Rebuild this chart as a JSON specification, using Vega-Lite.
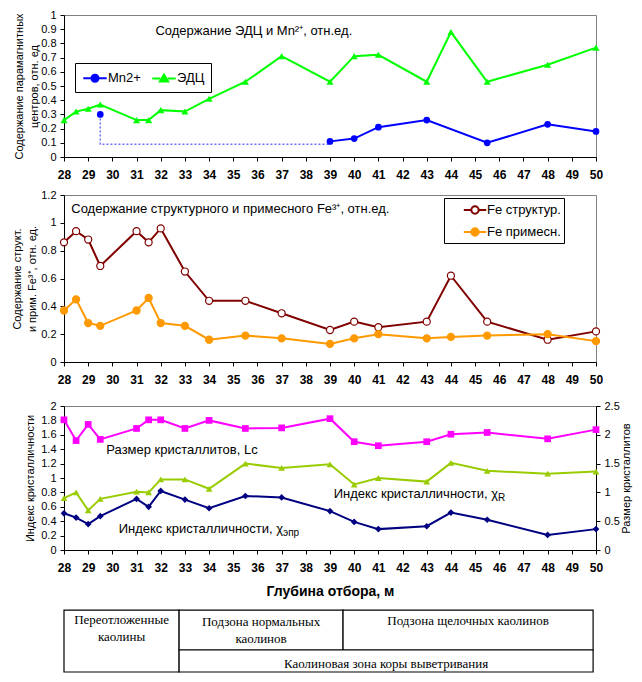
{
  "$schema": "https://vega.github.io/schema/vega-lite/v6.json",
  "background": "white",
  "padding": {"left": 11, "top": 8, "right": 5, "bottom": 5},
  "spacing": 7,
  "resolve": {
    "scale": {"color": "independent", "shape": "independent", "fill": "independent", "stroke": "independent"},
    "legend": {"color": "independent", "shape": "independent", "fill": "independent", "stroke": "independent"}
  },
  "datasets": {
    "p1": [
      {"series": "ЭДЦ", "depth": 28, "value": 0.26},
      {"series": "ЭДЦ", "depth": 28.5, "value": 0.32},
      {"series": "ЭДЦ", "depth": 29, "value": 0.34},
      {"series": "ЭДЦ", "depth": 29.5, "value": 0.37},
      {"series": "ЭДЦ", "depth": 31, "value": 0.26},
      {"series": "ЭДЦ", "depth": 31.5, "value": 0.26},
      {"series": "ЭДЦ", "depth": 32, "value": 0.33},
      {"series": "ЭДЦ", "depth": 33, "value": 0.32},
      {"series": "ЭДЦ", "depth": 34, "value": 0.41},
      {"series": "ЭДЦ", "depth": 35.5, "value": 0.53},
      {"series": "ЭДЦ", "depth": 37, "value": 0.71},
      {"series": "ЭДЦ", "depth": 39, "value": 0.53},
      {"series": "ЭДЦ", "depth": 40, "value": 0.71},
      {"series": "ЭДЦ", "depth": 41, "value": 0.72},
      {"series": "ЭДЦ", "depth": 43, "value": 0.53},
      {"series": "ЭДЦ", "depth": 44, "value": 0.88},
      {"series": "ЭДЦ", "depth": 45.5, "value": 0.53},
      {"series": "ЭДЦ", "depth": 48, "value": 0.65},
      {"series": "ЭДЦ", "depth": 50, "value": 0.77},
      {"series": "Mn2+", "depth": 29.5, "value": 0.30},
      {"series": "Mn2+", "depth": 39, "value": 0.11},
      {"series": "Mn2+", "depth": 40, "value": 0.13},
      {"series": "Mn2+", "depth": 41, "value": 0.21},
      {"series": "Mn2+", "depth": 43, "value": 0.26},
      {"series": "Mn2+", "depth": 45.5, "value": 0.10},
      {"series": "Mn2+", "depth": 48, "value": 0.23},
      {"series": "Mn2+", "depth": 50, "value": 0.18}
    ],
    "mnlink": [
      {"i": 1, "depth": 29.5, "value": 0.30},
      {"i": 2, "depth": 29.5, "value": 0.09},
      {"i": 3, "depth": 39, "value": 0.09}
    ],
    "p2": [
      {"series": "Fe структур.", "depth": 28, "value": 0.86},
      {"series": "Fe структур.", "depth": 28.5, "value": 0.94},
      {"series": "Fe структур.", "depth": 29, "value": 0.88},
      {"series": "Fe структур.", "depth": 29.5, "value": 0.69},
      {"series": "Fe структур.", "depth": 31, "value": 0.94},
      {"series": "Fe структур.", "depth": 31.5, "value": 0.86},
      {"series": "Fe структур.", "depth": 32, "value": 0.96},
      {"series": "Fe структур.", "depth": 33, "value": 0.65},
      {"series": "Fe структур.", "depth": 34, "value": 0.44},
      {"series": "Fe структур.", "depth": 35.5, "value": 0.44},
      {"series": "Fe структур.", "depth": 37, "value": 0.35},
      {"series": "Fe структур.", "depth": 39, "value": 0.23},
      {"series": "Fe структур.", "depth": 40, "value": 0.29},
      {"series": "Fe структур.", "depth": 41, "value": 0.25},
      {"series": "Fe структур.", "depth": 43, "value": 0.29},
      {"series": "Fe структур.", "depth": 44, "value": 0.62},
      {"series": "Fe структур.", "depth": 45.5, "value": 0.29},
      {"series": "Fe структур.", "depth": 48, "value": 0.16},
      {"series": "Fe структур.", "depth": 50, "value": 0.22},
      {"series": "Fe примесн.", "depth": 28, "value": 0.37},
      {"series": "Fe примесн.", "depth": 28.5, "value": 0.45},
      {"series": "Fe примесн.", "depth": 29, "value": 0.28},
      {"series": "Fe примесн.", "depth": 29.5, "value": 0.26},
      {"series": "Fe примесн.", "depth": 31, "value": 0.37},
      {"series": "Fe примесн.", "depth": 31.5, "value": 0.46},
      {"series": "Fe примесн.", "depth": 32, "value": 0.28},
      {"series": "Fe примесн.", "depth": 33, "value": 0.26},
      {"series": "Fe примесн.", "depth": 34, "value": 0.16},
      {"series": "Fe примесн.", "depth": 35.5, "value": 0.19},
      {"series": "Fe примесн.", "depth": 37, "value": 0.17},
      {"series": "Fe примесн.", "depth": 39, "value": 0.13},
      {"series": "Fe примесн.", "depth": 40, "value": 0.17},
      {"series": "Fe примесн.", "depth": 41, "value": 0.20},
      {"series": "Fe примесн.", "depth": 43, "value": 0.17},
      {"series": "Fe примесн.", "depth": 44, "value": 0.18},
      {"series": "Fe примесн.", "depth": 45.5, "value": 0.19},
      {"series": "Fe примесн.", "depth": 48, "value": 0.20},
      {"series": "Fe примесн.", "depth": 50, "value": 0.15}
    ],
    "p3left": [
      {"series": "χR", "depth": 28, "value": 0.72},
      {"series": "χR", "depth": 28.5, "value": 0.80},
      {"series": "χR", "depth": 29, "value": 0.55},
      {"series": "χR", "depth": 29.5, "value": 0.71},
      {"series": "χR", "depth": 31, "value": 0.81},
      {"series": "χR", "depth": 31.5, "value": 0.80},
      {"series": "χR", "depth": 32, "value": 0.98},
      {"series": "χR", "depth": 33, "value": 0.98},
      {"series": "χR", "depth": 34, "value": 0.85},
      {"series": "χR", "depth": 35.5, "value": 1.20},
      {"series": "χR", "depth": 37, "value": 1.14},
      {"series": "χR", "depth": 39, "value": 1.19},
      {"series": "χR", "depth": 40, "value": 0.91},
      {"series": "χR", "depth": 41, "value": 1.00},
      {"series": "χR", "depth": 43, "value": 0.95},
      {"series": "χR", "depth": 44, "value": 1.21},
      {"series": "χR", "depth": 45.5, "value": 1.10},
      {"series": "χR", "depth": 48, "value": 1.06},
      {"series": "χR", "depth": 50, "value": 1.09},
      {"series": "χэпр", "depth": 28, "value": 0.51},
      {"series": "χэпр", "depth": 28.5, "value": 0.45},
      {"series": "χэпр", "depth": 29, "value": 0.36},
      {"series": "χэпр", "depth": 29.5, "value": 0.47},
      {"series": "χэпр", "depth": 31, "value": 0.71},
      {"series": "χэпр", "depth": 31.5, "value": 0.60},
      {"series": "χэпр", "depth": 32, "value": 0.82},
      {"series": "χэпр", "depth": 33, "value": 0.70},
      {"series": "χэпр", "depth": 34, "value": 0.58},
      {"series": "χэпр", "depth": 35.5, "value": 0.75},
      {"series": "χэпр", "depth": 37, "value": 0.73},
      {"series": "χэпр", "depth": 39, "value": 0.54},
      {"series": "χэпр", "depth": 40, "value": 0.39},
      {"series": "χэпр", "depth": 41, "value": 0.29},
      {"series": "χэпр", "depth": 43, "value": 0.33},
      {"series": "χэпр", "depth": 44, "value": 0.52},
      {"series": "χэпр", "depth": 45.5, "value": 0.42},
      {"series": "χэпр", "depth": 48, "value": 0.21},
      {"series": "χэпр", "depth": 50, "value": 0.29}
    ],
    "p3right": [
      {"series": "Lc", "depth": 28, "value": 2.26},
      {"series": "Lc", "depth": 28.5, "value": 1.90},
      {"series": "Lc", "depth": 29, "value": 2.18},
      {"series": "Lc", "depth": 29.5, "value": 1.92},
      {"series": "Lc", "depth": 31, "value": 2.11},
      {"series": "Lc", "depth": 31.5, "value": 2.26},
      {"series": "Lc", "depth": 32, "value": 2.26},
      {"series": "Lc", "depth": 33, "value": 2.11},
      {"series": "Lc", "depth": 34, "value": 2.25},
      {"series": "Lc", "depth": 35.5, "value": 2.11},
      {"series": "Lc", "depth": 37, "value": 2.12},
      {"series": "Lc", "depth": 39, "value": 2.28},
      {"series": "Lc", "depth": 40, "value": 1.88},
      {"series": "Lc", "depth": 41, "value": 1.81},
      {"series": "Lc", "depth": 43, "value": 1.88},
      {"series": "Lc", "depth": 44, "value": 2.01},
      {"series": "Lc", "depth": 45.5, "value": 2.04},
      {"series": "Lc", "depth": 48, "value": 1.93},
      {"series": "Lc", "depth": 50, "value": 2.09}
    ],
    "table": [
      {"x0": 28, "x1": 32.76, "y0": 0, "y1": 1},
      {"x0": 32.76, "x1": 39.54, "y0": 0, "y1": 0.645},
      {"x0": 39.54, "x1": 49.88, "y0": 0, "y1": 0.645},
      {"x0": 32.76, "x1": 49.88, "y0": 0.645, "y1": 1}
    ],
    "tablelabels": [
      {"cx": 30.38, "cy": 0.161, "label": "Переотложенные\nкаолины"},
      {"cx": 36.15, "cy": 0.194, "label": "Подзона нормальных\nкаолинов"},
      {"cx": 44.71, "cy": 0.177, "label": "Подзона щелочных каолинов"},
      {"cx": 41.32, "cy": 0.876, "label": "Каолиновая зона коры выветривания"}
    ]
  },
  "vconcat": [
    {
      "width": 532,
      "height": 142,
      "encoding": {
        "x": {"field": "depth", "type": "quantitative",
          "scale": {"domain": [28, 50], "nice": false, "zero": false},
          "axis": {"values": [28,29,30,31,32,33,34,35,36,37,38,39,40,41,42,43,44,45,46,47,48,49,50], "title": null}},
        "y": {"field": "value", "type": "quantitative",
          "scale": {"domain": [0, 1], "nice": false},
          "axis": {"values": [0,0.1,0.2,0.3,0.4,0.5,0.6,0.7,0.8,0.9,1], "format": "~g", "title": ["Содержание парамагнитных", "центров, отн. ед"], "titlePadding": 1}}
      },
      "layer": [
        {
          "data": {"name": "mnlink"},
          "mark": {"type": "line", "color": "#6f6fff", "strokeDash": [2, 2], "strokeWidth": 1.5},
          "encoding": {"order": {"field": "i", "type": "quantitative"}}
        },
        {
          "data": {"name": "p1"},
          "transform": [{"filter": "datum.series == 'ЭДЦ' || datum.depth >= 39"}],
          "mark": {"type": "line", "strokeWidth": 2},
          "encoding": {
            "color": {"field": "series", "type": "nominal",
              "scale": {"domain": ["Mn2+", "ЭДЦ"], "range": ["#0000FF", "#00FF00"]},
              "legend": {
                "title": null, "orient": "none", "legendX": 11, "legendY": 48,
                "direction": "horizontal", "fillColor": "white", "strokeColor": "black",
                "padding": 6, "labelFontSize": 13, "labelColor": "black", "labelOffset": 4,
                "symbolOffset": 5, "columnPadding": 7, "symbolSize": 256, "symbolStrokeWidth": 2, "cornerRadius": 0,
                "encode": {"symbols": {"update": {
                  "shape": {"signal": "datum.value === 'Mn2+' ? 'M-1.46,0L-0.44,0M0.44,0L1.46,0M-0.44,0A0.44,0.44,0,1,1,0.44,0A0.44,0.44,0,1,1,-0.44,0Z' : 'M-1.46,0L-0.46,0M0.46,0L1.46,0M0,-0.48L0.52,0.4L-0.52,0.4Z'"},
                  "fill": {"signal": "datum.value === 'Mn2+' ? '#0000FF' : '#00FF00'"},
                  "stroke": {"signal": "datum.value === 'Mn2+' ? '#0000FF' : '#00FF00'"},
                  "strokeWidth": {"value": 2},
                  "opacity": {"value": 1}
                }}}
              }}
          }
        },
        {
          "data": {"name": "p1"},
          "transform": [{"filter": "datum.series == 'Mn2+'"}],
          "mark": {"type": "point", "shape": "circle", "filled": true, "size": 45, "opacity": 1, "color": "#0000FF"}
        },
        {
          "data": {"name": "p1"},
          "transform": [{"filter": "datum.series == 'ЭДЦ'"}],
          "mark": {"type": "point", "shape": "triangle-up", "filled": true, "size": 50, "opacity": 1, "color": "#00FF00"}
        },
        {
          "data": {"values": [{"depth": 31.78, "value": 0.887, "text": "Содержание ЭДЦ и Mn²⁺, отн.ед."}]},
          "mark": {"type": "text", "align": "left", "baseline": "middle", "fontSize": 13, "color": "black"},
          "encoding": {"text": {"field": "text"}}
        }
      ]
    },
    {
      "width": 532,
      "height": 167,
      "encoding": {
        "x": {"field": "depth", "type": "quantitative",
          "scale": {"domain": [28, 50], "nice": false, "zero": false},
          "axis": {"values": [28,29,30,31,32,33,34,35,36,37,38,39,40,41,42,43,44,45,46,47,48,49,50], "title": " ", "titleFontSize": 1, "titlePadding": 5}},
        "y": {"field": "value", "type": "quantitative",
          "scale": {"domain": [0, 1.2], "nice": false},
          "axis": {"values": [0,0.2,0.4,0.6,0.8,1,1.2], "format": "~g", "title": ["Содержание структ.", "и прим. Fe³⁺, отн. ед."], "titlePadding": 3}}
      },
      "layer": [
        {
          "data": {"name": "p2"},
          "mark": {"type": "line", "strokeWidth": 2},
          "encoding": {
            "color": {"field": "series", "type": "nominal",
              "scale": {"domain": ["Fe структур.", "Fe примесн."], "range": ["#800000", "#FF9900"]},
              "legend": {
                "title": null, "orient": "none", "legendX": 380, "legendY": 3,
                "direction": "vertical", "fillColor": "white", "strokeColor": "black",
                "padding": 3, "labelFontSize": 13, "labelColor": "black", "labelOffset": 3,
                "symbolOffset": 19, "rowPadding": 5, "symbolSize": 256, "symbolStrokeWidth": 2, "cornerRadius": 0,
                "labelExpr": "datum.label + '\u00a0\u00a0\u00a0\u00a0\u00a0\u00a0\u00a0\u00a0'",
                "encode": {"symbols": {"update": {
                  "shape": {"value": "M-1.4,0L-0.46,0M0.46,0L1.4,0M-0.46,0A0.46,0.46,0,1,1,0.46,0A0.46,0.46,0,1,1,-0.46,0Z"},
                  "fill": {"signal": "datum.value === 'Fe структур.' ? '#FFFFFF' : '#FF9900'"},
                  "stroke": {"signal": "datum.value === 'Fe структур.' ? '#800000' : '#FF9900'"},
                  "strokeWidth": {"value": 2},
                  "opacity": {"value": 1}
                }}}
              }}
          }
        },
        {
          "data": {"name": "p2"},
          "mark": {"type": "point", "shape": "circle", "filled": true, "size": 50, "strokeWidth": 1.2, "opacity": 1},
          "encoding": {
            "fill": {"field": "series", "type": "nominal",
              "scale": {"domain": ["Fe структур.", "Fe примесн."], "range": ["#FFFFFF", "#FF9900"]}, "legend": null},
            "stroke": {"field": "series", "type": "nominal",
              "scale": {"domain": ["Fe структур.", "Fe примесн."], "range": ["#800000", "#FF9900"]}, "legend": null}
          }
        },
        {
          "data": {"values": [{"depth": 28.3, "value": 1.097, "text": "Содержание структурного и примесного Fe³⁺, отн.ед."}]},
          "mark": {"type": "text", "align": "left", "baseline": "middle", "fontSize": 13, "color": "black"},
          "encoding": {"text": {"field": "text"}}
        }
      ]
    },
    {
      "width": 532,
      "height": 144,
      "encoding": {
        "x": {"field": "depth", "type": "quantitative",
          "scale": {"domain": [28, 50], "nice": false, "zero": false},
          "axis": {"values": [28,29,30,31,32,33,34,35,36,37,38,39,40,41,42,43,44,45,46,47,48,49,50], "title": "Глубина отбора, м", "titleFontSize": 14, "titleFontWeight": "bold", "titlePadding": 11}}
      },
      "layer": [
        {
          "encoding": {
            "y": {"field": "value", "type": "quantitative",
              "scale": {"domain": [0, 2], "nice": false},
              "axis": {"values": [0,0.2,0.4,0.6,0.8,1,1.2,1.4,1.6,1.8,2], "format": "~g", "title": "Индекс кристалличности", "titlePadding": 5}}
          },
          "layer": [
            {
              "data": {"name": "p3left"},
              "mark": {"type": "line", "strokeWidth": 2},
              "encoding": {"color": {"field": "series", "type": "nominal",
                "scale": {"domain": ["χR", "χэпр"], "range": ["#99CC00", "#000080"]}, "legend": null}}
            },
            {
              "data": {"name": "p3left"},
              "mark": {"type": "point", "filled": true, "size": 45, "opacity": 1},
              "encoding": {
                "color": {"field": "series", "type": "nominal", "legend": null},
                "shape": {"field": "series", "type": "nominal",
                  "scale": {"domain": ["χR", "χэпр"], "range": ["triangle-up", "diamond"]}, "legend": null}
              }
            },
            {
              "data": {"values": [{"depth": 29.75, "value": 1.395, "text": "Размер кристаллитов, Lc"}]},
              "mark": {"type": "text", "align": "left", "baseline": "middle", "fontSize": 13, "color": "black"},
              "encoding": {"text": {"field": "text"}}
            },
            {
              "data": {"values": [
                {"depth": 45.95, "value": 0.773, "text": "Индекс кристалличности,  χ"},
                {"depth": 37.06, "value": 0.2875, "text": "Индекс кристалличности, χ"}
              ]},
              "mark": {"type": "text", "align": "right", "baseline": "middle", "fontSize": 13, "color": "black"},
              "encoding": {"text": {"field": "text"}}
            },
            {
              "data": {"values": [
                {"depth": 45.95, "value": 0.773, "text": "R"},
                {"depth": 37.06, "value": 0.2875, "text": "эпр"}
              ]},
              "mark": {"type": "text", "align": "left", "baseline": "middle", "fontSize": 10, "dy": 4, "color": "black"},
              "encoding": {"text": {"field": "text"}}
            }
          ]
        },
        {
          "data": {"name": "p3right"},
          "encoding": {
            "y": {"field": "value", "type": "quantitative",
              "scale": {"domain": [0, 2.5], "nice": false},
              "axis": {"orient": "right", "values": [0,0.5,1,1.5,2,2.5], "format": "~g", "title": "Размер кристаллитов", "titleAngle": 270, "titlePadding": 12}}
          },
          "layer": [
            {"mark": {"type": "line", "strokeWidth": 2, "color": "#FF00FF"}},
            {"mark": {"type": "point", "shape": "square", "filled": true, "size": 45, "opacity": 1, "color": "#FF00FF"}}
          ]
        }
      ],
      "resolve": {"scale": {"y": "independent"}}
    },
    {
      "width": 532,
      "height": 66,
      "view": {"stroke": null},
      "layer": [
        {
          "data": {"name": "table"},
          "mark": {"type": "rect", "fill": "white", "stroke": "black", "strokeWidth": 1.2},
          "encoding": {
            "x": {"field": "x0", "type": "quantitative", "scale": {"domain": [28, 50], "nice": false, "zero": false}, "axis": null},
            "x2": {"field": "x1"},
            "y": {"field": "y0", "type": "quantitative", "scale": {"domain": [-0.065, 1], "reverse": true, "nice": false, "zero": false}, "axis": null},
            "y2": {"field": "y1"}
          }
        },
        {
          "data": {"name": "tablelabels"},
          "mark": {"type": "text", "font": "Liberation Serif", "fontSize": 13, "lineBreak": "\n", "lineHeight": 16.5, "align": "center", "baseline": "middle", "color": "black"},
          "encoding": {
            "x": {"field": "cx", "type": "quantitative"},
            "y": {"field": "cy", "type": "quantitative"},
            "text": {"field": "label"}
          }
        }
      ]
    }
  ],
  "config": {
    "font": "Liberation Sans",
    "view": {"stroke": "#808080", "strokeWidth": 1},
    "axis": {
      "grid": false, "domainColor": "black", "tickColor": "black", "labelColor": "black", "titleColor": "black",
      "labelFontSize": 11, "tickSize": 4, "labelFlush": false, "labelOverlap": false,
      "titleFontWeight": "normal", "titleFontSize": 11, "titleLineHeight": 15, "labelPadding": 4
    },
    "axisX": {"labelFontWeight": "bold", "labelFontSize": 12, "labelPadding": 8}
  }
}
